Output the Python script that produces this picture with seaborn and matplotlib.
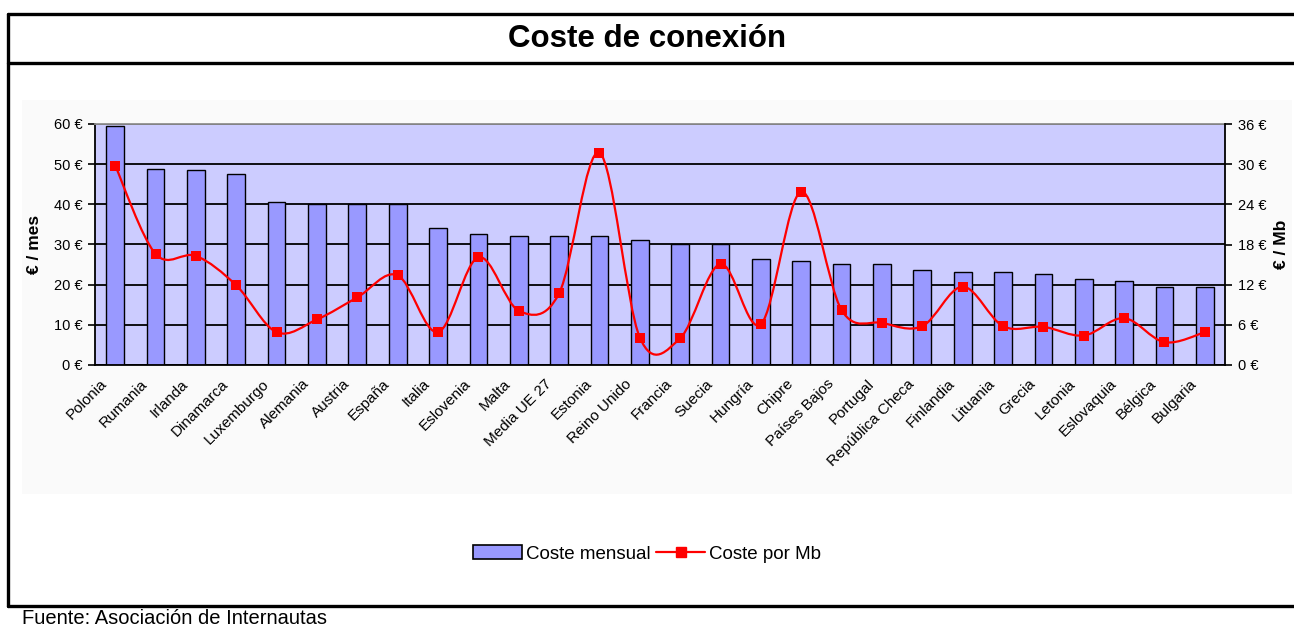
import numpy as np
import matplotlib
matplotlib.use("Agg")
import matplotlib.pyplot as plt
import matplotlib.transforms as mtransforms
from matplotlib.path import Path
from matplotlib.patches import PathPatch, Rectangle, Patch
from matplotlib.lines import Line2D
import seaborn as sns

# Data
countries = ['Polonia', 'Rumania', 'Irlanda', 'Dinamarca', 'Luxemburgo', 'Alemania',
             'Austria', 'España', 'Italia', 'Eslovenia', 'Malta', 'Media UE 27',
             'Estonia', 'Reino Unido', 'Francia', 'Suecia', 'Hungría', 'Chipre',
             'Países Bajos', 'Portugal', 'República Checa', 'Finlandia', 'Lituania',
             'Grecia', 'Letonia', 'Eslovaquia', 'Bélgica', 'Bulgaria']
coste_mensual = [59.5, 48.8, 48.5, 47.5, 40.6, 40.0, 40.0, 40.0, 34.1, 32.6, 32.0, 32.0,
                 32.0, 31.0, 30.0, 30.0, 26.5, 26.0, 25.1, 25.1, 23.6, 23.1, 23.1,
                 22.6, 21.5, 21.0, 19.5, 19.5]
coste_mb = [29.8, 16.6, 16.3, 11.9, 4.9, 6.8, 10.1, 13.4, 4.9, 16.1, 8.1, 10.7,
            31.7, 4.1, 4.0, 15.1, 6.1, 25.9, 8.2, 6.3, 5.8, 11.7, 5.8,
            5.7, 4.4, 7.0, 3.4, 4.9]
left_ticks = [0, 10, 20, 30, 40, 50, 60]
right_ticks = [0, 6, 12, 18, 24, 30, 36]

sns.set_style("white")
plt.rcParams['font.family'] = ['Liberation Sans', 'DejaVu Sans']
plt.rcParams['text.color'] = 'black'
plt.rcParams['axes.labelcolor'] = 'black'
plt.rcParams['xtick.color'] = 'black'
plt.rcParams['ytick.color'] = 'black'

W, H = 1294, 626
fig = plt.figure(figsize=(W / 100, H / 100), dpi=100)
fig.patch.set_facecolor('white')

# light chart-area background
fig.add_artist(Rectangle((22 / W, 1 - 494 / H), (1292 - 22) / W, (494 - 100) / H,
                         transform=fig.transFigure, facecolor='#fafafa',
                         edgecolor='none', zorder=-5))

# frame lines
for yy in [14, 63, 606]:
    fig.add_artist(Line2D([8 / W, 1], [1 - yy / H] * 2, transform=fig.transFigure,
                          color='black', lw=2.4))
fig.add_artist(Line2D([8 / W, 8 / W], [1 - 14 / H, 1 - 606 / H],
                      transform=fig.transFigure, color='black', lw=2.4))

fig.text(0.5, 1 - 39 / H, 'Coste de conexión', ha='center', va='center',
         fontsize=22.5, fontweight='bold')
fig.text(22 / W, 2 / H, 'Fuente: Asociación de Internautas', ha='left',
         va='baseline', fontsize=14.5)

ax = fig.add_axes([95 / W, 1 - 365 / H, 1130 / W, 241 / H])
ax.set_facecolor('#ccccff')

sns.barplot(x=countries, y=coste_mensual, color='#9999ff', saturation=1,
            width=0.44, edgecolor='black', linewidth=1, ax=ax)

ax.set_ylim(0, 60)
ax.set_xlim(-0.5, len(countries) - 0.5)
ax.set_yticks(left_ticks)
ax.set_yticklabels([f'{v} €' for v in left_ticks])
ax.set_axisbelow(True)
ax.yaxis.grid(True, color='black', lw=1.3)
ax.xaxis.grid(False)
ax.set_xlabel('')
ax.set_ylabel('€ / mes', fontsize=12.5, fontweight='bold')
ax.yaxis.set_label_coords(-0.047, 0.5)

ax.set_xticks(range(len(countries)))
ax.set_xticklabels(countries, rotation=45, ha='right', va='center',
                   rotation_mode='anchor', fontsize=11)
ax.set_xticks(np.arange(-0.5, len(countries)), minor=True)
ax.tick_params(axis='x', which='major', length=0, pad=12)
ax.tick_params(axis='x', which='minor', length=5, width=1.2, color='black', direction='out')
ax.tick_params(axis='y', length=5, width=1.2, color='black', direction='out',
               labelsize=10.5, pad=4, left=True)
shift = mtransforms.ScaledTranslation(-10 / 100, 0, fig.dpi_scale_trans)
for lab in ax.get_xticklabels():
    lab.set_transform(lab.get_transform() + shift)

for side in ['left', 'bottom']:
    ax.spines[side].set_color('black')
    ax.spines[side].set_linewidth(1.3)
ax.spines['top'].set_color('#909090')
ax.spines['top'].set_linewidth(1.3)
ax.spines['right'].set_visible(False)

# secondary axis: cost per Mb
ax2 = ax.twinx()
ax2.set_ylim(0, 36)
ax2.set_yticks(right_ticks)
ax2.set_yticklabels([f'{v} €' for v in right_ticks])
ax2.tick_params(axis='y', length=5, width=1.2, color='black', direction='out',
                labelsize=10.5, pad=4, right=True)
ax2.set_ylabel('€ / Mb', fontsize=12.5, fontweight='bold', rotation=90)
ax2.yaxis.set_label_coords(1.043, 0.5)
ax2.yaxis.label.set_va('top')
for side in ['left', 'top', 'bottom']:
    ax2.spines[side].set_visible(False)
ax2.spines['right'].set_color('black')
ax2.spines['right'].set_linewidth(1.3)
ax2.grid(False)

# smoothed line through the points (Catmull-Rom as Bezier segments)
xs = np.arange(len(coste_mb), dtype=float)
ys = np.asarray(coste_mb, dtype=float)
verts = [(xs[0], ys[0])]
codes = [Path.MOVETO]
n = len(xs)
for i in range(n - 1):
    i0 = max(i - 1, 0)
    i3 = min(i + 2, n - 1)
    c1 = (xs[i] + (xs[i + 1] - xs[i0]) / 6, ys[i] + (ys[i + 1] - ys[i0]) / 6)
    c2 = (xs[i + 1] - (xs[i3] - xs[i]) / 6, ys[i + 1] - (ys[i3] - ys[i]) / 6)
    verts += [c1, c2, (xs[i + 1], ys[i + 1])]
    codes += [Path.CURVE4] * 3
ax2.add_patch(PathPatch(Path(verts, codes), facecolor='none', edgecolor='red',
                        lw=1.6, zorder=3))
sns.scatterplot(x=xs, y=ys, marker='s', s=50, color='red', edgecolor='red',
                linewidth=0, ax=ax2, zorder=4)
ax2.set_xlim(-0.5, len(countries) - 0.5)
ax2.set_ylim(0, 36)

handles = [Patch(facecolor='#9999ff', edgecolor='black', lw=1.2),
           Line2D([], [], color='red', lw=1.6, marker='s', markersize=7)]
fig.legend(handles, ['Coste mensual', 'Coste por Mb'], loc='center',
           bbox_to_anchor=(0.5, 1 - 554 / H), ncol=2, frameon=False,
           handlelength=2.6, handleheight=0.75, handletextpad=0.2,
           columnspacing=0.3, fontsize=13.5)

fig.savefig('out.png', dpi=100)
